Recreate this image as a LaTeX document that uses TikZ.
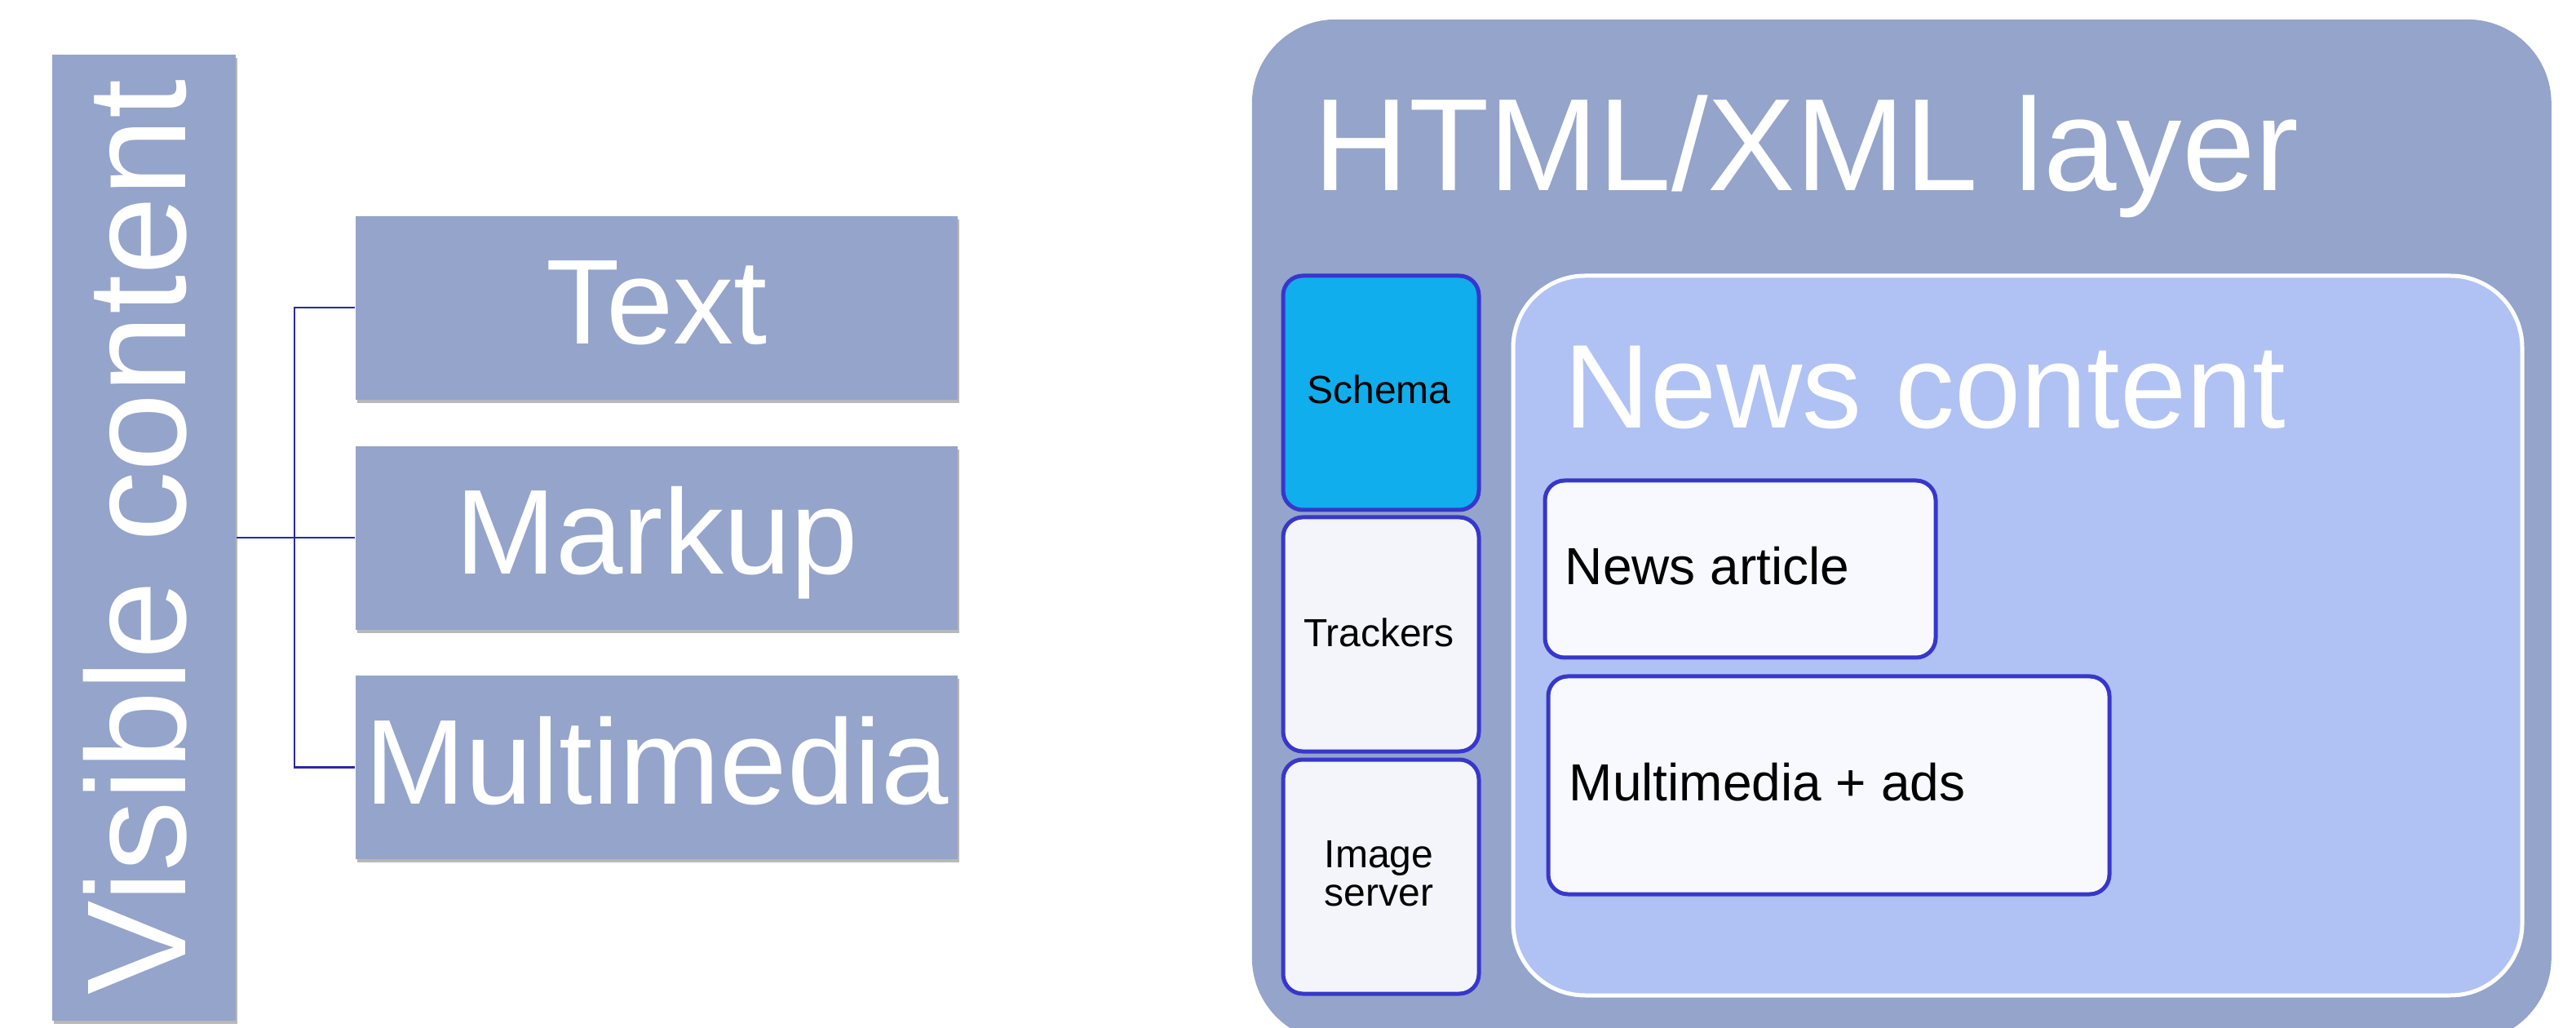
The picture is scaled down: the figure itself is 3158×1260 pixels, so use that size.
\documentclass[tikz,border=0pt]{standalone}
\usepackage{fontspec}
\setmainfont{Liberation Sans}
\usetikzlibrary{shadows}
\definecolor{panel}{HTML}{94A4CB}
\definecolor{newsbg}{HTML}{B0C2F3}
\definecolor{schemabg}{HTML}{10AEEC}
\definecolor{edgeblue}{HTML}{3737CC}
\definecolor{sidebg}{HTML}{F3F5FA}
\definecolor{itembg}{HTML}{F8F9FE}
\definecolor{connblue}{HTML}{2A2AA0}
\begin{document}
\begin{tikzpicture}[x=0.25pt,y=-0.25pt,
  leftbox/.style={fill=panel, inner sep=0, anchor=north west,
    drop shadow={shadow xshift=0.6pt, shadow yshift=-1.1pt, opacity=0.28, fill=black}},
  bigwhite/.style={text=white, inner sep=0, font=\fontsize{37pt}{40pt}\selectfont},
  sidebox/.style={draw=edgeblue, line width=1.25pt, rounded corners=6pt, inner sep=0,
    anchor=north west, minimum width=60pt, minimum height=71.75pt},
  itembox/.style={draw=edgeblue, line width=1.25pt, rounded corners=6pt, fill=itembg,
    inner sep=0, anchor=north west},
  smalltxt/.style={inner sep=0, font=\fontsize{12pt}{11.75pt}\selectfont, align=center},
  itemtxt/.style={inner sep=0, anchor=base west, font=\fontsize{16pt}{18pt}\selectfont},
  conn/.style={draw=connblue, line width=0.6pt}
]
\useasboundingbox (0,0) rectangle (3158,1260);
\fill[white] (0,0) rectangle (3158,1260);
\clip (0,0) rectangle (3158,1260);

% ---- left part ----
\node[leftbox, minimum width=56.25pt, minimum height=296pt] (vis) at (63,66) {};
\node[text=white, inner sep=0, rotate=90, anchor=base,
  font=\fontsize{43.25pt}{46pt}\selectfont] (vislbl) at (227,658) {Visible content};
\node[leftbox, minimum width=184.5pt, minimum height=56.25pt] (txt) at (435,264) {};
\node[leftbox, minimum width=184.5pt, minimum height=56.25pt] (mku) at (435,546) {};
\node[leftbox, minimum width=184.5pt, minimum height=56.25pt] (mmd) at (435,827) {};
\node[bigwhite, anchor=base] (txtlbl) at (805,422) {Text};
\node[bigwhite, anchor=base] (mkulbl) at (805,704) {Markup};
\node[bigwhite, anchor=base] (mmdlbl) at (805,985) {Multimedia};

\coordinate (j) at (361,658);
\draw[conn] (vis.east) -- (vis.east -| mku.west);
\draw[conn] (txt.west) -| (j) |- (mmd.west);

% ---- right part ----
\node[fill=panel, rounded corners=25.75pt, inner sep=0, anchor=north west,
  minimum width=398.25pt, minimum height=313.25pt] (layer) at (1534,23) {};
\node[text=white, inner sep=0, anchor=base west,
  font=\fontsize{40.25pt}{44pt}\selectfont] (layerlbl) at (1610,234) {HTML/XML layer};
\node[draw=white, fill=newsbg, line width=1.25pt, rounded corners=22pt, inner sep=0,
  anchor=north west, minimum width=309.25pt, minimum height=220.5pt] (news) at (1852.5,335.5) {};
\node[text=white, inner sep=0, anchor=base west,
  font=\fontsize{36.5pt}{40pt}\selectfont] (newslbl) at (1917,525) {News content};

\node[sidebox, fill=schemabg] (schema) at (1570.5,335.5) {};
\node[sidebox, fill=sidebg] (track) at (1570.5,631.5) {};
\node[sidebox, fill=sidebg] (imgsrv) at (1570.5,928.5) {};
\node[smalltxt, anchor=base] (schemalbl) at (1690.5,495) {Schema};
\node[smalltxt, anchor=base] (tracklbl) at (1690.5,793) {Trackers};
\node[smalltxt, anchor=base] (imglbl) at (1690.5,1110) {Image\\server};

\node[itembox, minimum width=119.75pt, minimum height=54.25pt] (article) at (1891.5,586.5) {};
\node[itembox, minimum width=172pt, minimum height=66.75pt] (media) at (1895.5,826.5) {};
\node[itemtxt] (articlelbl) at (1918,717) {News article};
\node[itemtxt] (medialbl) at (1923,981) {Multimedia + ads};
\end{tikzpicture}
\end{document}
